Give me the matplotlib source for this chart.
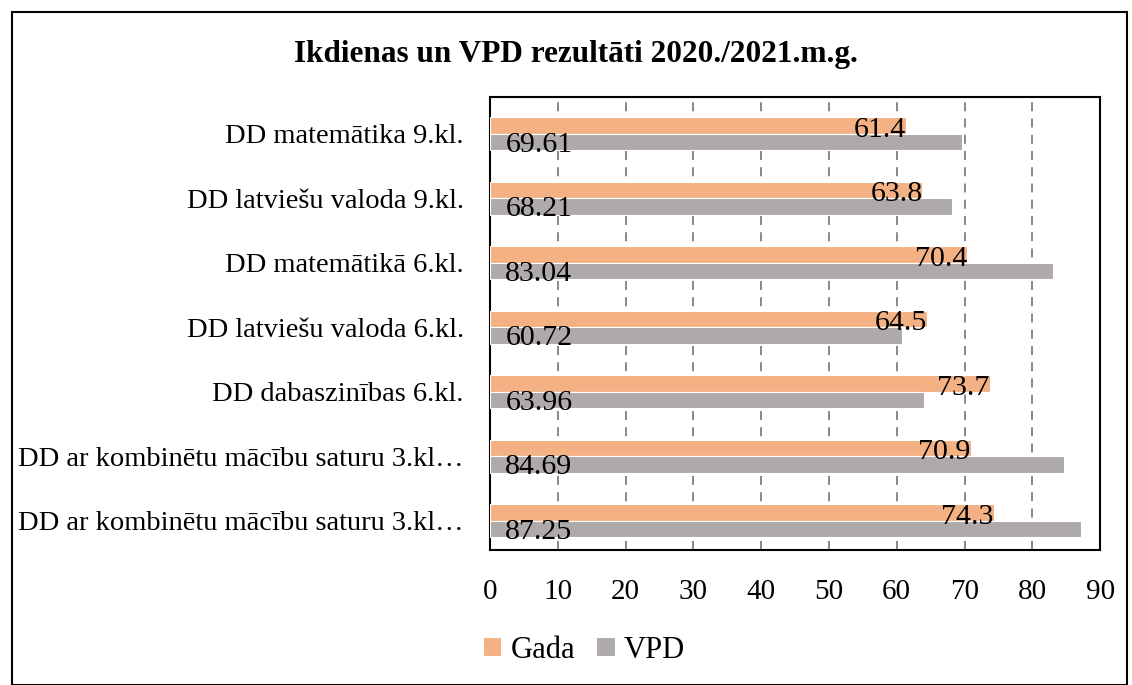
import matplotlib.pyplot as plt
import matplotlib.patches as mpatches
import numpy as np

categories = [
    "DD matemātika 9.kl.",
    "DD latviešu valoda 9.kl.",
    "DD matemātikā 6.kl.",
    "DD latviešu valoda 6.kl.",
    "DD dabaszinības 6.kl.",
    "DD ar kombinētu mācību saturu 3.kl…",
    "DD ar kombinētu mācību saturu 3.kl…",
]
gada = [61.4, 63.8, 70.4, 64.5, 73.7, 70.9, 74.3]
vpd = [69.61, 68.21, 83.04, 60.72, 63.96, 84.69, 87.25]
x_ticks = [0, 10, 20, 30, 40, 50, 60, 70, 80, 90]

plt.rcParams['font.family'] = ['Liberation Serif', 'DejaVu Serif']

orange = '#F4B183'
gray = '#AEAAAA'

fig = plt.figure(figsize=(11.32, 6.85), dpi=100)
ax = fig.add_axes([0.4329, 0.197, 0.5389, 0.661])

y = np.arange(len(categories))
h = 0.256
ax.barh(y - h / 2, gada, height=h, color=orange, edgecolor='white', linewidth=0.8, label='Gada', zorder=3)
ax.barh(y + h / 2, vpd, height=h, color=gray, edgecolor='white', linewidth=0.8, label='VPD', zorder=3)

# value labels: Gada at inside end, VPD at inside base (like the Excel original)
for yi, g, v in zip(y, gada, vpd):
    ax.annotate(f"{g}", (g, yi - h / 2), xytext=(0, -3), textcoords='offset points',
                ha='right', va='center', fontsize=21.5, zorder=4)
    ax.annotate(f"{v}", (0, yi + h / 2), xytext=(11, -2), textcoords='offset points',
                ha='left', va='center', fontsize=21.5, zorder=4)

ax.set_xlim(0, 90)
ax.set_ylim(6.457, -0.566)
ax.set_xticks(x_ticks)
ax.set_yticks(y)
ax.set_yticklabels(categories, fontsize=20.5)
ax.tick_params(axis='x', length=0, pad=21, labelsize=21)
ax.tick_params(axis='y', length=0, pad=19)
ax.grid(axis='x', linestyle=(0, (5, 4)), color='#7F7F7F', linewidth=1.3, zorder=0)
for s in ax.spines.values():
    s.set_linewidth(1.5)
    s.set_color('black')

fig.suptitle("Ikdienas un VPD rezultāti 2020./2021.m.g.", x=0.509, y=0.942,
             fontsize=22.5, fontweight='bold')

fig.legend(loc='center', bbox_to_anchor=(0.516, 0.051), ncol=2, frameon=False,
           fontsize=22, handlelength=0.6, handleheight=0.6, handletextpad=0.3,
           columnspacing=0.7)

# outer border of the chart
fig.patches.append(mpatches.Rectangle((0.011, 0.0), 0.985, 0.983, transform=fig.transFigure,
                                      fill=False, edgecolor='black', linewidth=1.5))

fig.savefig('out.png', dpi=100)
